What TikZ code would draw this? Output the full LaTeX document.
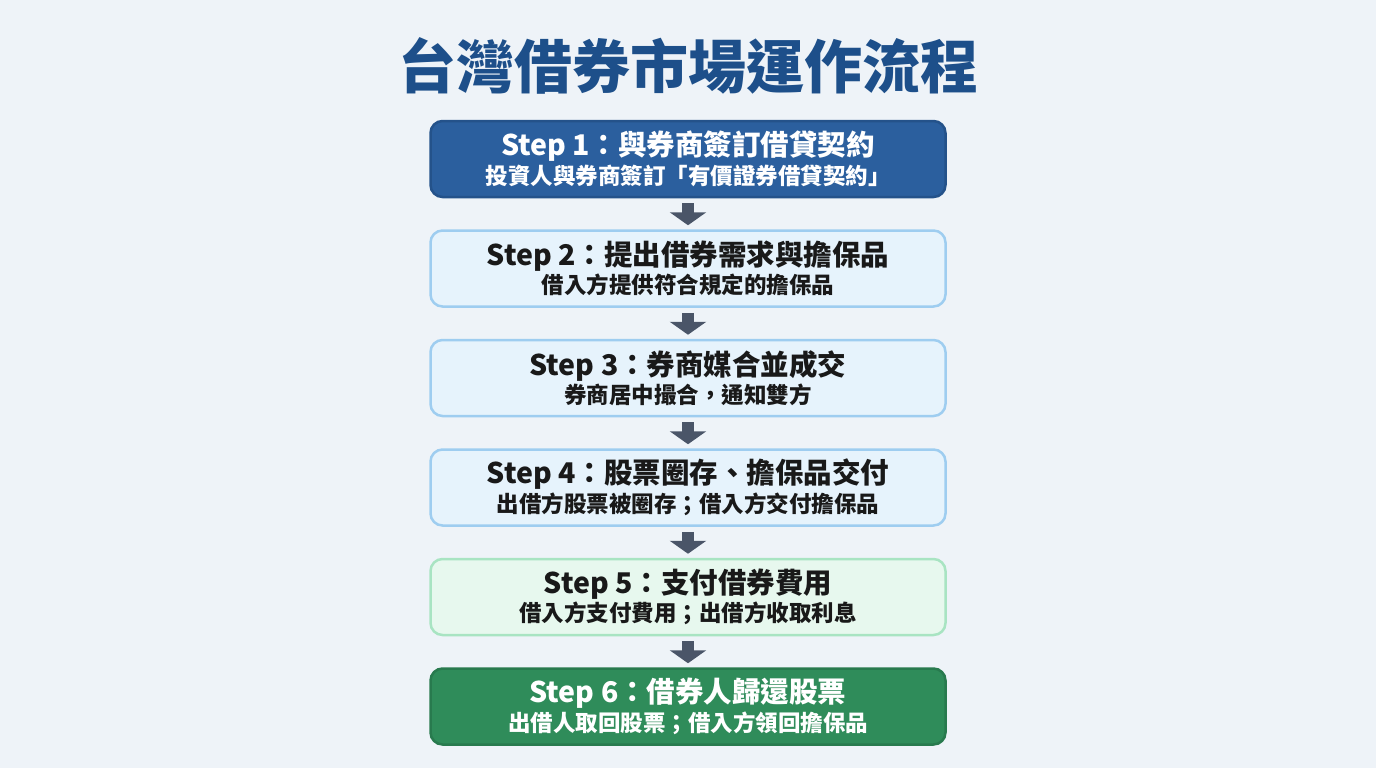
\documentclass[tikz,border=0pt]{standalone}
\usepackage{fontspec}
\setmainfont{Noto Sans CJK TC}
\usetikzlibrary{positioning,arrows.meta}

\definecolor{bgcol}{HTML}{EEF3F8}
\definecolor{titlecol}{HTML}{1D4F8A}
\definecolor{darkblue}{HTML}{2B5F9E}
\definecolor{darkblueline}{HTML}{24528A}
\definecolor{lightblue}{HTML}{E6F3FC}
\definecolor{lightblueline}{HTML}{9ECDF0}
\definecolor{lightgreen}{HTML}{E7F8EE}
\definecolor{lightgreenline}{HTML}{A8E4C2}
\definecolor{darkgreen}{HTML}{2F8C5A}
\definecolor{darkgreenline}{HTML}{287A4E}
\definecolor{arrowcol}{HTML}{4A5568}

\newcommand{\steptext}[2]{{\fontsize{28.5}{30}\selectfont\bfseries #1}\\[2pt]{\fontsize{22.5}{24}\selectfont\bfseries #2}}

\tikzset{
  stepbox/.style={rectangle,rounded corners=12pt,minimum width=515pt,minimum height=76pt,
    align=center,line width=2.5pt,inner sep=0pt,text=black!90},
  bluebox/.style={stepbox,fill=lightblue,draw=lightblueline},
  greenbox/.style={stepbox,fill=lightgreen,draw=lightgreenline},
  flowarrow/.style={arrowcol,line width=12pt,-{Triangle[width=36pt,length=13pt]},
    shorten <=5pt,shorten >=4pt}
}

\begin{document}
\begin{tikzpicture}[x=1pt,y=1pt,node distance=31pt]
  \fill[bgcol] (0,0) rectangle (1376,-768);
  \useasboundingbox (0,0) rectangle (1376,-768);

  \node[titlecol,font=\fontsize{58}{60}\selectfont\bfseries] (title) at (688,-66) {台灣借券市場運作流程};

  \node[stepbox,fill=darkblue,draw=darkblueline,text=white] (s1) at (688,-159)
    {\steptext{Step 1：與券商簽訂借貸契約}{投資人與券商簽訂「有價證券借貸契約」}};
  \node[bluebox,below=of s1] (s2)
    {\steptext{Step 2：提出借券需求與擔保品}{借入方提供符合規定的擔保品}};
  \node[bluebox,below=of s2] (s3)
    {\steptext{Step 3：券商媒合並成交}{券商居中撮合，通知雙方}};
  \node[bluebox,below=of s3] (s4)
    {\steptext{Step 4：股票圈存、擔保品交付}{出借方股票被圈存；借入方交付擔保品}};
  \node[greenbox,below=of s4] (s5)
    {\steptext{Step 5：支付借券費用}{借入方支付費用；出借方收取利息}};
  \node[stepbox,fill=darkgreen,draw=darkgreenline,text=white,below=of s5] (s6)
    {\steptext{Step 6：借券人歸還股票}{出借人取回股票；借入方領回擔保品}};

  % arrows between steps
  \foreach \a/\b in {s1/s2,s2/s3,s3/s4,s4/s5,s5/s6}
    \draw[flowarrow] (\a.south) -- (\b.north);
\end{tikzpicture}
\end{document}
